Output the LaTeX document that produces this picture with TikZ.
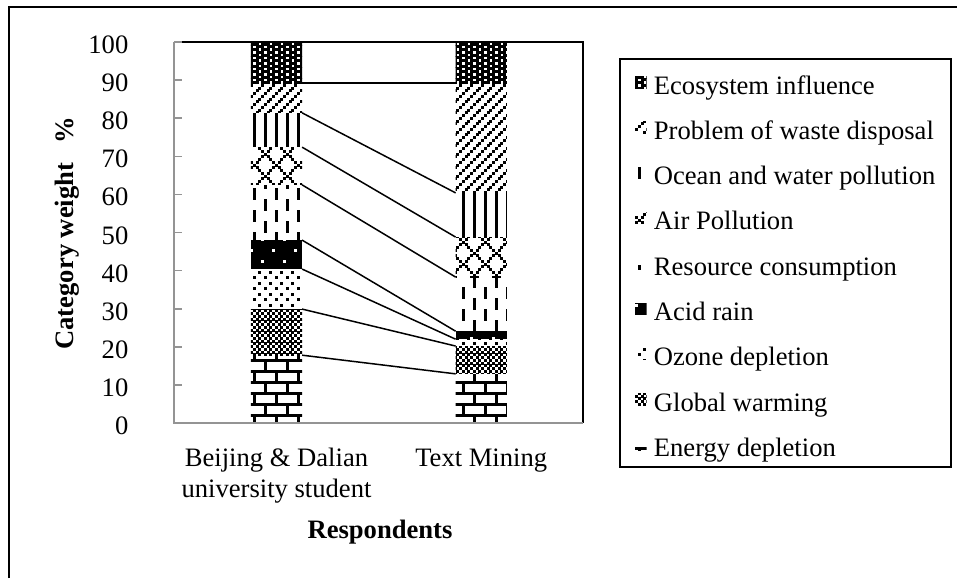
\documentclass[tikz,border=0pt]{standalone}
\usepackage{fontspec}
\setmainfont{Liberation Serif}

% ---- fill patterns: 8x8 bitmaps, one bitmap pixel = 2.75 units, anchored to a global grid ----
\newcommand{\defpat}[4]{% name, background, foreground, condition on column \ci and row \ri
  \expandafter\def\csname patbg-#1\endcsname{#2}%
  \expandafter\def\csname patfg-#1\endcsname{#3}%
  \expandafter\def\csname patcd-#1\endcsname{#4}}

\defpat{energy}{white}{black}{(mod(\ri,8)==2 || mod(\ri,8)==6) || (mod(\ri,8)>=3 && mod(\ri,8)<=5 && mod(\ci,8)==0) || ((mod(\ri,8)==7 || mod(\ri,8)<=1) && mod(\ci,8)==4)}
\defpat{warming}{white}{black}{mod(\ci+\ri,2)==0}
\defpat{ozone}{white}{black}{mod(\ri,2)==0 && mod(\ci,4)==mod(\ri,4)}
\defpat{acid}{black}{white}{(mod(\ri,8)==2 && mod(\ci,8)==3) || (mod(\ri,8)==6 && mod(\ci,8)==7)}
\defpat{resource}{white}{black}{mod(\ci,4)==0 && ((mod(\ci,8)==0) == (mod(\ri,8)<4))}
\defpat{air}{white}{black}{mod(\ci-\ri+800,8)==1 || mod(\ci+\ri,8)==7}
\defpat{ocean}{white}{black}{mod(\ci,4)==0}
\defpat{waste}{white}{black}{mod(\ci+\ri,4)==1}
\defpat{eco}{white}{black}{mod(\ci,4)!=2*mod(\ri,2)}

% rectangle (#2,#3)-(#4,#5) filled with pattern #1
\newcommand{\patrect}[5]{%
  \begin{scope}
    \edef\patbg{\csname patbg-#1\endcsname}%
    \edef\patfg{\csname patfg-#1\endcsname}%
    \expandafter\let\expandafter\patcond\csname patcd-#1\endcsname
    \clip (#2,#3) rectangle (#4,#5);
    \fill[fill=\patbg] (#2,#3) rectangle (#4,#5);
    \pgfmathtruncatemacro{\pcA}{floor((#2)/2.75)}%
    \pgfmathtruncatemacro{\pcB}{floor((#4)/2.75)}%
    \pgfmathtruncatemacro{\prA}{floor(((#3)-1.5)/2.75)}%
    \pgfmathtruncatemacro{\prB}{floor(((#5)-1.5)/2.75)}%
    \foreach \ci in {\pcA,...,\pcB}{%
      \foreach \ri in {\prA,...,\prB}{%
        \pgfmathtruncatemacro{\pcon}{\patcond}%
        \ifnum\pcon=1
          \fill[fill=\patfg] ({\ci*2.75-0.06},{1.5+\ri*2.75-0.06}) rectangle ++(2.87,2.87);
        \fi}}%
  \end{scope}}

% one stacked segment: pattern, left x, lower and upper value in percent
\newcommand{\segment}[4]{%
  \pgfmathsetmacro{\sya}{423-3.81*(#4)}%
  \pgfmathsetmacro{\syb}{423-3.81*(#3)}%
  \pgfmathsetmacro{\sxb}{#2+51.2}%
  \patrect{#1}{#2}{\sya}{\sxb}{\syb}}

\newcommand{\chartfont}{\fontsize{26.6}{30.5}\selectfont}

\begin{document}
\begin{tikzpicture}[x=1pt,y=-1pt,
  ticklab/.style={anchor=base east, inner sep=0pt, font=\chartfont},
  leglab/.style={anchor=base west, inner sep=0pt, font=\chartfont},
  catlab/.style={anchor=base, inner sep=0pt, font=\chartfont},
  axtitle/.style={inner sep=0pt, font=\chartfont\bfseries},
  link/.style={line width=1.5pt, black},
  axisline/.style={line width=2.2pt, black!42},
  frameline/.style={line width=2pt, black}]

\useasboundingbox (0,0) rectangle (957,578);
\fill[white] (0,0) rectangle (957,578);

% outer frame
\coordinate (fBL) at (9,578);
\coordinate (fTL) at (9,7);
\coordinate (fTR) at (957,7);
\draw[frameline] (fBL) -- (fTL) -- (fTR);

% stacked bars
\segment{energy}{250.9}{0}{17.8}
\segment{warming}{250.9}{17.8}{29.9}
\segment{ozone}{250.9}{29.9}{40.4}
\segment{acid}{250.9}{40.4}{48.0}
\segment{resource}{250.9}{48.0}{62.5}
\segment{air}{250.9}{62.5}{72.4}
\segment{ocean}{250.9}{72.4}{81.4}
\segment{waste}{250.9}{81.4}{89.2}
\segment{eco}{250.9}{89.2}{100}

\segment{energy}{455.6}{0}{12.9}
\segment{warming}{455.6}{12.9}{20.2}
\segment{ozone}{455.6}{20.2}{22.0}
\segment{acid}{455.6}{22.0}{24.1}
\segment{resource}{455.6}{24.1}{38.3}
\segment{air}{455.6}{38.3}{48.8}
\segment{ocean}{455.6}{48.8}{60.4}
\segment{waste}{455.6}{60.4}{89.2}
\segment{eco}{455.6}{89.2}{100}

% series lines between the bars
\foreach \vl/\vr [count=\i] in {17.8/12.9, 29.9/20.2, 40.4/22.0, 48.0/24.1,
                                 62.5/38.3, 72.4/48.8, 81.4/60.4, 89.2/89.2}{
  \coordinate (sL\i) at (302.1,{423-3.81*\vl});
  \coordinate (sR\i) at (455.6,{423-3.81*\vr});
  \draw[link] (sL\i) -- (sR\i);
}

% plot area
\coordinate (pTL) at (174,42);
\coordinate (pTR) at (583,42);
\coordinate (pBR) at (583,423);
\coordinate (pBL) at (174,423);
\draw[frameline] (pTL) -- (pTR) -- (pBR);
\draw[axisline] (pTL) -- (pBL) -- (pBR);

% value axis
\foreach \v in {0,10,...,100}{
  \coordinate (tk\v) at (174,{423-3.81*\v});
  \coordinate (tke\v) at (182,{423-3.81*\v});
  \draw[axisline, line width=1.6pt] (tk\v) -- (tke\v);
  \node[ticklab] (tl\v) at (128.5,{423-3.81*\v+11.5}) {\v};
}
\node[axtitle, rotate=90] (ytitle) at (67,233) {Category weight\hspace{13pt} \%};

% category axis
\node[catlab] (cat1a) at (276.5,466.5) {Beijing \& Dalian};
\node[catlab] (cat1b) at (276.5,497) {university student};
\node[catlab] (cat2) at (481.2,466.5) {Text Mining};
\node[axtitle, anchor=base] (xtitle) at (380,538) {Respondents};

% legend
\draw[frameline] (620,59) rectangle (951,467);
\foreach \p/\t [count=\i from 0] in {eco/Ecosystem influence,
    waste/Problem of waste disposal, ocean/Ocean and water pollution,
    air/Air Pollution, resource/Resource consumption, acid/Acid rain,
    ozone/Ozone depletion, warming/Global warming, energy/Energy depletion}{
  \pgfmathsetmacro{\lb}{94+45.3*\i}
  \pgfmathsetmacro{\mt}{\lb-17.5}
  \pgfmathsetmacro{\mb}{\lb-6}
  \patrect{\p}{635}{\mt}{646.5}{\mb}
  \node[leglab] (leg\i) at (653.7,\lb) {\t};
}
\end{tikzpicture}
\end{document}
